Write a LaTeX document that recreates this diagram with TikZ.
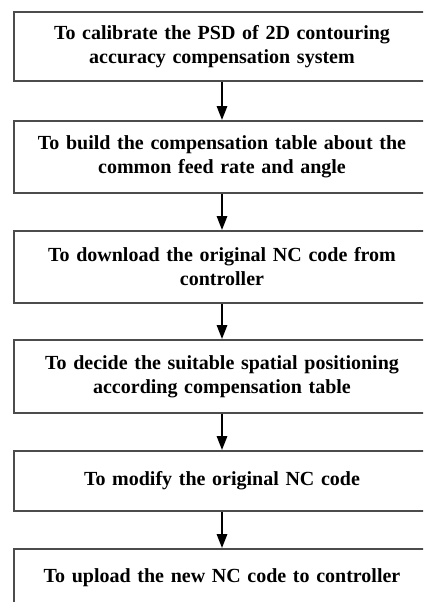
\documentclass[tikz,border=0pt]{standalone}
\usepackage{fontspec}
\setmainfont{Liberation Serif}
\usetikzlibrary{arrows.meta}
\newcommand\stepfont{\fontsize{20}{24}\selectfont\bfseries\spaceskip=0.19em plus 0.05em\relax}
\begin{document}
\begin{tikzpicture}[x=1pt,y=1pt,
  stepbox/.style={draw=black!70, line width=1.6pt, minimum width=416pt, text width=410pt, align=center, inner sep=0pt,
    font=\stepfont},
  flow/.style={line width=2.6pt, -{Triangle[length=14pt,width=10pt]}}]
\useasboundingbox (0,0) rectangle (423,-602);
\clip (0,0) rectangle (423,-602);
\fill[white] (0,0) rectangle (423,-602);
\node[stepbox, minimum height=69pt] (b1) at (222,-46.5) {To calibrate the PSD of 2D contouring\\accuracy compensation system};
\node[stepbox, minimum height=72pt] (b2) at (222,-157) {To build the compensation table about the\\common feed rate and angle};
\node[stepbox, minimum height=72pt] (b3) at (222,-267) {To download the original NC code from\\controller};
\node[stepbox, minimum height=73pt] (b4) at (222,-376.5) {To decide the suitable spatial positioning\\according compensation table};
\node[stepbox, minimum height=60pt] (b5) at (222,-481) {To modify the original NC code};
\node[stepbox, minimum height=58pt] (b6) at (222,-578) {To upload the new NC code to controller};
\draw[flow] (b1.south -| 222,0) -- (b2.north -| 222,0);
\draw[flow] (b2.south -| 222,0) -- (b3.north -| 222,0);
\draw[flow] (b3.south -| 222,0) -- (b4.north -| 222,0);
\draw[flow] (b4.south -| 222,0) -- (b5.north -| 222,0);
\draw[flow] (b5.south -| 222,0) -- (b6.north -| 222,0);
\end{tikzpicture}
\end{document}
